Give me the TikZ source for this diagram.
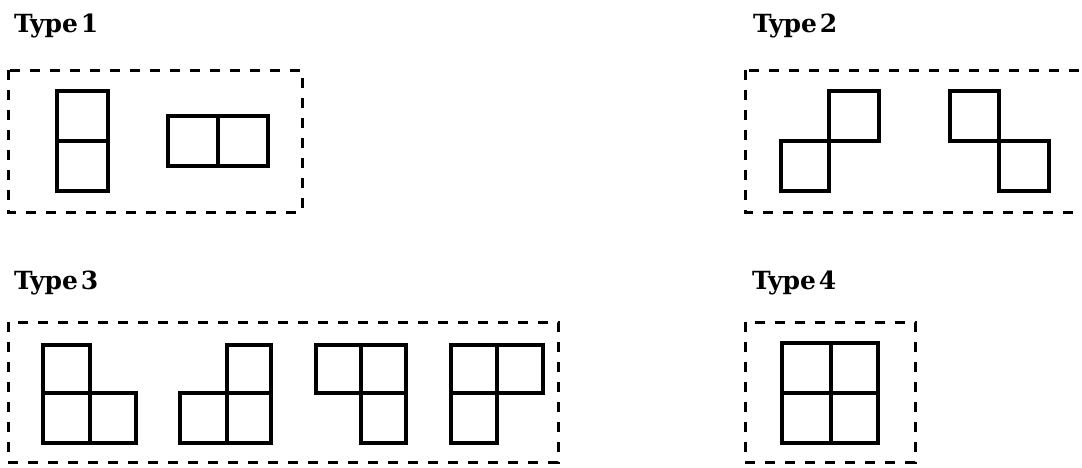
\documentclass[tikz,border=0pt]{standalone}
\usepackage{fontspec}
\newfontfamily\labfont{DejaVu Serif}
\begin{document}
\begin{tikzpicture}[x=1pt,y=-1pt,
  cell/.style={draw=black,line width=3.4pt,line join=miter},
  group/.style={draw=black,line width=3pt,dash pattern=on 10pt off 10pt},
  lab/.style={anchor=base west,inner sep=0pt,font=\labfont\bfseries\fontsize{25}{29}\selectfont}]
\useasboundingbox (0,0) rectangle (1082,467);
\clip (0,0) rectangle (1082,467);
% labels
\node[lab] (t1) at (14,32) {Type\hspace{0.12em}1};
\node[lab] (t2) at (753,32) {Type\hspace{0.12em}2};
\node[lab] (t3) at (14,289) {Type\hspace{0.12em}3};
\node[lab] (t4) at (752,289) {Type\hspace{0.12em}4};
% group boxes
\draw[group] (8,70) rectangle (302,212);
\draw[group] (745,70) rectangle (1100,212);
\draw[group] (8,322) rectangle (558,462);
\draw[group] (745,322) rectangle (915,462);
% Type 1
\draw[cell] (57,91) rectangle (108,141) (57,141) rectangle (108,191);
\draw[cell] (168,116) rectangle (218,166) (218,116) rectangle (268,166);
% Type 2
\draw[cell] (829,91) rectangle (879,141) (781,141) rectangle (829,191);
\draw[cell] (950,91) rectangle (999,141) (999,141) rectangle (1049,191);
% Type 3
\draw[cell] (43,345) rectangle (90,393) (43,393) rectangle (90,443) (90,393) rectangle (136,443);
\draw[cell] (227,345) rectangle (271,393) (180,393) rectangle (227,443) (227,393) rectangle (271,443);
\draw[cell] (316,345) rectangle (361,393) (361,345) rectangle (406,393) (361,393) rectangle (406,443);
\draw[cell] (451,345) rectangle (497,393) (497,345) rectangle (543,393) (451,393) rectangle (497,443);
% Type 4
\draw[cell] (782,343) rectangle (831,393) (831,343) rectangle (878,393)
            (782,393) rectangle (831,443) (831,393) rectangle (878,443);
\end{tikzpicture}
\end{document}
